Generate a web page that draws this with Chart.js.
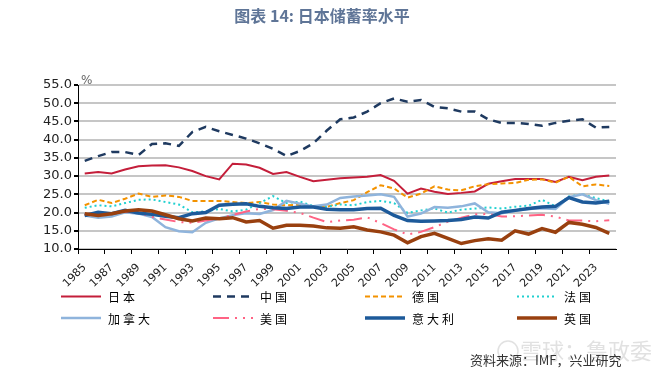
<!DOCTYPE html>
<html>
<head>
<meta charset="utf-8">
<script src="https://cdn.jsdelivr.net/npm/chart.js@4/dist/chart.umd.min.js"></script>
<style>
  body { margin: 0; background: #fff; }
  #wrap { width: 662px; height: 371px; }
</style>
</head>
<body>
<div id="wrap"><canvas id="savingChart" width="662" height="371"></canvas></div>
<script>
// years 1985 - 2024
let years = [];
for (let y = 1985; y <= 2024; y++) years.push(String(y));

let yTicks = [10, 15, 20, 25, 30, 35, 40, 45, 50, 55];

let japan = [30.7, 31.1, 30.7, 31.8, 32.7, 32.9, 33.0, 32.4, 31.4, 30.0,
  29.1, 33.4, 33.2, 32.3, 30.6, 31.1, 29.8, 28.6, 29.0, 29.4,
  29.6, 29.8, 30.3, 28.7, 25.2, 26.6, 25.7, 25.1, 25.4, 25.8,
  27.9, 28.6, 29.2, 29.2, 29.2, 28.4, 29.8, 28.9, 29.8, 30.2];
let china = [34.2, 35.5, 36.6, 36.6, 35.8, 38.8, 39.0, 38.3, 42.1, 43.5,
  42.3, 41.3, 40.3, 39.0, 37.5, 35.5, 36.9, 39.0, 42.5, 45.6,
  46.1, 47.7, 50.0, 51.3, 50.4, 50.9, 49.0, 48.6, 47.7, 47.7,
  45.6, 44.6, 44.6, 44.3, 43.8, 44.6, 45.2, 45.6, 43.3, 43.5];
let germany = [22.0, 23.5, 22.6, 23.8, 25.2, 24.3, 24.7, 24.3, 23.2, 23.2,
  23.2, 22.9, 22.6, 22.9, 22.2, 22.0, 22.2, 21.6, 21.6, 22.6,
  23.4, 25.6, 27.5, 26.6, 24.1, 25.2, 27.2, 26.3, 26.1, 27.2,
  27.8, 28.0, 28.1, 29.0, 29.1, 28.2, 29.8, 27.2, 27.7, 27.3];
let france = [21.3, 22.0, 21.7, 22.6, 23.5, 23.6, 22.9, 22.2, 20.1, 20.3,
  21.0, 20.3, 20.8, 22.6, 24.5, 22.6, 23.0, 21.8, 21.6, 22.2,
  22.0, 22.9, 23.2, 22.6, 19.9, 20.6, 21.1, 20.0, 20.8, 21.1,
  21.4, 21.1, 21.6, 21.9, 23.5, 21.7, 24.4, 25.0, 24.0, 23.0];
let canada = [19.2, 18.6, 18.9, 20.1, 19.7, 18.8, 16.0, 14.9, 14.6, 17.2,
  18.4, 19.3, 19.8, 19.6, 20.7, 23.2, 22.4, 21.7, 22.2, 24.0,
  24.4, 24.7, 25.0, 24.3, 18.9, 19.7, 21.5, 21.3, 21.7, 22.5,
  20.1, 19.8, 20.5, 21.0, 21.2, 21.0, 24.2, 25.0, 23.4, 22.4];
let usa = [19.5, 19.6, 19.8, 20.2, 20.0, 18.8, 18.1, 17.4, 17.2, 17.8,
  18.4, 19.3, 20.3, 21.0, 20.9, 20.5, 19.9, 18.6, 17.4, 17.8,
  18.0, 18.7, 17.1, 15.4, 14.0, 14.7, 16.0, 17.5, 18.6, 19.5,
  19.6, 18.9, 19.0, 19.2, 19.4, 18.9, 17.8, 17.8, 17.6, 17.9];
let italy = [19.2, 20.1, 19.7, 20.6, 19.9, 19.5, 19.0, 18.6, 19.7, 20.0,
  22.0, 22.3, 22.4, 21.7, 21.3, 21.1, 21.5, 21.5, 20.9, 20.8,
  20.8, 21.1, 21.2, 19.2, 17.8, 17.6, 17.7, 17.8, 18.1, 18.8,
  18.5, 20.1, 20.6, 21.1, 21.5, 21.7, 24.1, 22.9, 22.6, 23.1];
let uk = [19.7, 19.2, 19.7, 20.4, 20.8, 20.4, 19.4, 18.3, 17.7, 18.5,
  18.3, 18.6, 17.4, 17.8, 15.7, 16.5, 16.5, 16.3, 15.8, 15.7,
  16.1, 15.2, 14.7, 13.8, 11.7, 13.4, 14.3, 12.9, 11.5, 12.3,
  12.8, 12.4, 15.0, 14.1, 15.6, 14.6, 17.3, 16.8, 15.9, 14.3];

let seriesNames = ['日本', '中国', '德国', '法国', '加拿大', '美国', '意大利', '英国'];
let seriesData = [japan, china, germany, france, canada, usa, italy, uk];
let seriesColors = ['#c41e3a', '#1f3a60', '#f39200', '#20d0d0', '#8fb4dc', '#ff6384', '#1d5a9a', '#99400f'];
let seriesWidths = [2, 2.5, 2, 2, 2.5, 2, 3.5, 3.5];
let seriesDash = [[], [8, 6], [5, 3], [2, 3], [], [16, 6, 2, 6, 2, 6], [], []];

function makeDatasets(){
  let sets = [];
  for (let i = 0; i < seriesNames.length; i++){
    sets.push({
      label: seriesNames[i],
      data: seriesData[i],
      borderColor: seriesColors[i],
      backgroundColor: seriesColors[i],
      borderWidth: seriesWidths[i],
      borderDash: seriesDash[i],
      pointRadius: 0,
      tension: 0,
      fill: false,
      order: seriesNames.length - i
    });
  }
  return sets;
}

// title, legend, source text drawn around the plot
const decor = {
  id: 'decor',
  afterDraw(chart){
    let ctx = chart.ctx;
    ctx.save();
    ctx.fillStyle = '#5f7597';
    ctx.font = 'bold 16px "Noto Sans CJK SC"';
    ctx.textAlign = 'center';
    ctx.textBaseline = 'middle';
    ctx.fillText('图表 14: 日本储蓄率水平', 322, 16);

    ctx.fillStyle = '#666';
    ctx.font = '12px "DejaVu Sans"';
    ctx.textAlign = 'left';
    ctx.fillText('%', 81, 81);

    // legend: 2 rows x 4 columns
    ctx.font = '12px "Noto Sans CJK SC"';
    ctx.letterSpacing = '3px';
    for (let i = 0; i < seriesNames.length; i++){
      let col = i % 4;
      let row = Math.floor(i / 4);
      let x0 = 61 + 152 * col;
      let y0 = row === 0 ? 296.5 : 318;
      ctx.beginPath();
      ctx.strokeStyle = seriesColors[i];
      ctx.lineWidth = seriesWidths[i];
      ctx.setLineDash(seriesDash[i]);
      ctx.moveTo(x0, y0);
      ctx.lineTo(x0 + 40, y0);
      ctx.stroke();
      ctx.setLineDash([]);
      ctx.fillStyle = '#000';
      ctx.fillText(seriesNames[i], x0 + 47, y0 + 1);
    }
    ctx.letterSpacing = '0px';

    // watermark
    ctx.fillStyle = 'rgba(180,180,180,0.4)';
    ctx.font = '22px "Noto Sans CJK SC"';
    ctx.fillText('雪球：鲁政委', 520, 351);
    ctx.beginPath();
    ctx.strokeStyle = 'rgba(180,180,180,0.4)';
    ctx.lineWidth = 1.5;
    ctx.arc(508, 351, 10, 0, Math.PI * 2);
    ctx.stroke();

    ctx.fillStyle = '#333';
    ctx.font = '13px "Noto Sans CJK SC"';
    ctx.fillText('资料来源：IMF，兴业研究', 470, 360);
    ctx.restore();
  }
};

let canvas = document.getElementById('savingChart');
let myChart = new Chart(canvas.getContext('2d'), {
  type: 'line',
  data: {
    labels: years,
    datasets: makeDatasets()
  },
  options: {
    responsive: false,
    animation: false,
    layout: { padding: { top: 85, right: 46, bottom: 0, left: 0 } },
    plugins: {
      legend: { display: false },
      tooltip: { enabled: false }
    },
    scales: {
      x: {
        type: 'category',
        offset: true,
        afterFit: function(scale){ scale.height = 122; },
        border: { display: true, color: '#000', width: 1 },
        grid: {
          offset: true,
          drawOnChartArea: false,
          drawTicks: true,
          tickLength: 5,
          tickColor: function(c){ return c.index % 2 === 0 ? '#000' : 'rgba(0,0,0,0)'; }
        },
        ticks: {
          autoSkip: false,
          maxRotation: 45,
          minRotation: 45,
          padding: 7,
          color: '#222',
          font: { family: 'DejaVu Sans', size: 11 },
          callback: function(v, i){ return i % 2 === 0 ? years[i] : ''; }
        }
      },
      y: {
        min: yTicks[0],
        max: yTicks[yTicks.length - 1],
        afterFit: function(scale){ scale.width = 78; },
        afterBuildTicks: function(scale){ scale.ticks = yTicks.map(v => ({ value: v })); },
        border: { display: true, color: '#000', width: 1 },
        grid: {
          color: '#c6c6c6',
          lineWidth: 2,
          drawTicks: true,
          tickLength: 4,
          tickColor: '#000'
        },
        ticks: {
          autoSkip: false,
          padding: 2,
          color: '#222',
          font: { family: 'DejaVu Sans', size: 13 },
          callback: function(v){ return Number(v).toFixed(1); }
        }
      }
    }
  },
  plugins: [decor]
});
</script>
</body>
</html>
